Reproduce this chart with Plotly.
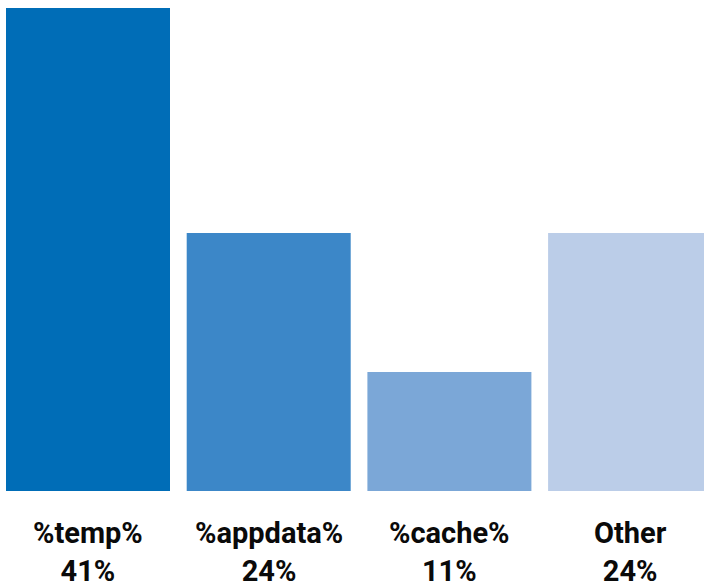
import plotly.graph_objects as go

categories = ["%temp%", "%appdata%", "%cache%", "Other"]
share_labels = [41, 24, 11, 24]          # percentages printed under the bars
bar_heights = [41, 21.9, 10.1, 21.9]     # bar heights as drawn in the picture
colors = ["#006DB7", "#3C87C8", "#7BA7D7", "#BBCDE8"]

x_pos = list(range(len(categories)))

fig = go.Figure()
fig.add_trace(go.Bar(
    x=x_pos,
    y=bar_heights,
    width=0.9076,
    marker=dict(color=colors, line=dict(width=0)),
    hoverinfo="skip",
))

for xi, cat, pct in zip(x_pos, categories, share_labels):
    fig.add_annotation(
        x=xi, y=0, xref="x", yref="paper",
        yanchor="top", xanchor="center",
        yshift=-23,
        text=f"<b>{cat}</b><br><b>{pct}%</b>",
        showarrow=False,
        font=dict(family="Roboto", size=29, color="#0a0a0a"),
        align="center",
    )

fig.update_layout(
    width=704, height=585,
    margin=dict(l=0, r=0, t=0, b=94),
    paper_bgcolor="white", plot_bgcolor="white",
    showlegend=False,
    xaxis=dict(range=[-0.487, 3.409], visible=False, fixedrange=True),
    yaxis=dict(range=[0, 41.68], visible=False, fixedrange=True),
)

fig.write_html("out.html")
